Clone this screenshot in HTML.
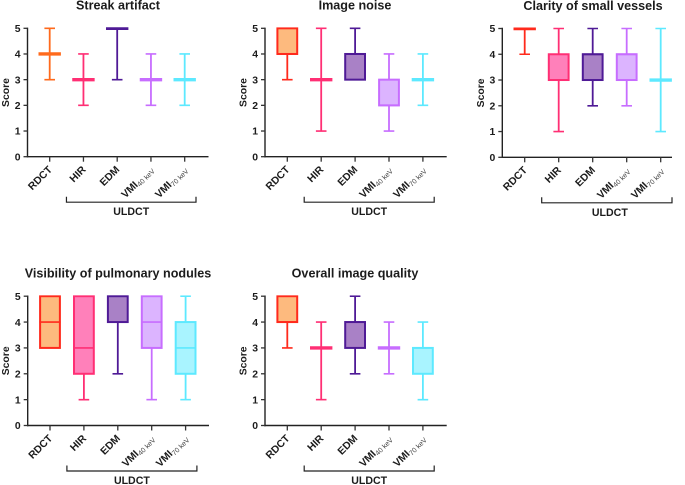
<!DOCTYPE html>
<html lang="en">
<head>
<meta charset="utf-8">
<title>ULDCT score box plots</title>
<style>
html,body{margin:0;padding:0;background:#fff;width:685px;height:485px;overflow:hidden}
svg{display:block;font-family:"Liberation Sans",Arial,sans-serif}
text{fill:#1c1c1c}
</style>
</head>
<body>
<svg id="chart" width="685" height="485" viewBox="0 0 685 485" xmlns="http://www.w3.org/2000/svg"></svg>
<script>
// Data: each row is [min, q1, median, q3, max] for RDCT, HIR, EDM, VMI40, VMI70
const categories = ['RDCT', 'HIR', 'EDM', 'VMI40', 'VMI70'];
const yTicks = [0, 1, 2, 3, 4, 5];
const panelTitles = ['Streak artifact', 'Image noise', 'Clarity of small vessels', 'Visibility of pulmonary nodules', 'Overall image quality'];
const streakArtifact = [[3,4,4,4,5],[2,3,3,3,4],[3,5,5,5,5],[2,3,3,3,4],[2,3,3,3,4]];
const imageNoise = [[3,4,4,5,5],[1,3,3,3,5],[3,3,4,4,5],[1,2,2,3,4],[2,3,3,3,4]];
const clarityOfVessels = [[4,5,5,5,5],[1,3,3,4,5],[2,3,4,4,5],[2,3,4,4,5],[1,3,3,3,5]];
const pulmonaryNodules = [[3,3,4,5,5],[1,2,3,5,5],[2,4,5,5,5],[1,3,4,5,5],[1,2,3,4,5]];
const overallQuality = [[3,4,4,5,5],[1,3,3,3,4],[2,3,4,4,5],[2,3,3,3,4],[1,2,3,3,4]];
const panelData = [streakArtifact, imageNoise, clarityOfVessels, pulmonaryNodules, overallQuality];

// Layout and style (not data)
const layouts = [
  {left: 27.5, bottom: 156.7, top: 28.3, first: 49.7, step: 33.75, right: 208.5, centre: 118, ulShift: 0},
  {left: 265, bottom: 156.7, top: 28.3, first: 287.3, step: 33.9, right: 446.7, centre: 355, ulShift: 0},
  {left: 502.3, bottom: 157.3, top: 28.5, first: 524.7, step: 34, right: 672, centre: 593, ulShift: 3},
  {left: 27.7, bottom: 425.5, top: 296.2, first: 50, step: 33.9, right: 209, centre: 118, ulShift: 0},
  {left: 265, bottom: 425.5, top: 296.2, first: 287.3, step: 33.9, right: 446.7, centre: 355, ulShift: 0}
];
const strokes = ['#ff2a1c', '#ff2f74', '#4f1a96', '#c76dff', '#5de9ff'];
const fills = ['#fdba7e', '#ff80ba', '#a981c6', '#dcb4ff', '#a9f4ff'];
const firstPanelFirstStroke = '#ff6a1c';
const NS = 'http://www.w3.org/2000/svg';
const svg = document.getElementById('chart');

function make(tag, attrs, parent) {
  const el = document.createElementNS(NS, tag);
  for (const k in attrs) el.setAttribute(k, attrs[k]);
  parent.appendChild(el);
  return el;
}

panelData.forEach(function (rows, p) {
  const L = layouts[p];
  const yScale = function (v) { return L.bottom - (L.bottom - L.top) * v / 5; };
  const xScale = function (i) { return L.first + L.step * i; };
  const slug = panelTitles[p].toLowerCase().replace(/ /g, '-');

  const g = make('g', {}, svg);
  
  

  const clipId = 'clip' + p;
  const defs = make('defs', {}, g);
  const clip = make('clipPath', {id: clipId}, defs);
  make('rect', {x: L.left, y: L.top - 1, width: L.right - L.left, height: L.bottom - L.top + 1}, clip);

  // title
  const title = make('text', {x: L.centre, y: L.top - 18.6, 'text-anchor': 'middle', 'font-size': 12.6, 'font-weight': 700}, g);
  title.textContent = panelTitles[p];
  
  

  // y axis title
  const ty = (L.top + L.bottom) / 2;
  const tx = L.left - 18.5;
  const yTitle = make('text', {x: tx, y: ty, transform: 'rotate(-90 ' + tx + ' ' + ty + ')', 'text-anchor': 'middle', 'font-size': 10.4, 'font-weight': 700}, g);
  yTitle.textContent = 'Score';
  
  

  // axes
  const yAxis = make('line', {x1: L.left, x2: L.left, y1: L.top - 0.7, y2: L.bottom + 0.7, stroke: '#222', 'stroke-width': 1.4}, g);
  
  
  const xAxis = make('line', {x1: L.left - 0.7, x2: L.right, y1: L.bottom, y2: L.bottom, stroke: '#222', 'stroke-width': 1.4}, g);
  
  

  yTicks.forEach(function (v) {
    const y = yScale(v);
    const tick = make('line', {x1: L.left - 4, x2: L.left, y1: y, y2: y, stroke: '#333', 'stroke-width': 1.3}, g);
    
    
    const lab = make('text', {x: L.left - 7, y: y + 3.7, 'text-anchor': 'end', 'font-size': 10.4, 'font-weight': 700}, g);
    lab.textContent = v;
    
    
  });

  // boxes
  rows.forEach(function (row, i) {
    const min = row[0], q1 = row[1], med = row[2], q3 = row[3], max = row[4];
    const x = xScale(i);
    const col = (p === 0 && i === 0) ? firstPanelFirstStroke : strokes[i];
    const halfBox = 10.6, halfCap = 5.3, sw = 1.8;

    const box = make('g', {'clip-path': 'url(#' + clipId + ')'}, g);
    
    

    if (max > q3) {
      make('line', {x1: x, x2: x, y1: yScale(max), y2: yScale(q3), stroke: col, 'stroke-width': sw}, box);
      make('line', {x1: x - halfCap, x2: x + halfCap, y1: yScale(max), y2: yScale(max), stroke: col, 'stroke-width': 1.6}, box);
    }
    if (min < q1) {
      make('line', {x1: x, x2: x, y1: yScale(q1), y2: yScale(min), stroke: col, 'stroke-width': sw}, box);
      make('line', {x1: x - halfCap, x2: x + halfCap, y1: yScale(min), y2: yScale(min), stroke: col, 'stroke-width': 1.6}, box);
    }
    if (q3 > q1) {
      make('rect', {x: x - halfBox + 0.7, y: yScale(q3), width: 2 * halfBox - 1.4, height: yScale(q1) - yScale(q3), fill: fills[i], stroke: col, 'stroke-width': 2}, box);
      make('line', {x1: x - halfBox, x2: x + halfBox, y1: yScale(med), y2: yScale(med), stroke: col, 'stroke-width': 1.7}, box);
    } else {
      make('line', {x1: x - 11.2, x2: x + 11.2, y1: yScale(med), y2: yScale(med), stroke: col, 'stroke-width': 3.4}, box);
    }

    // x tick
    const xt = make('line', {x1: x, x2: x, y1: L.bottom, y2: L.bottom + 5, stroke: '#333', 'stroke-width': 1.3}, g);
    
    

    // x label
    const ax = x + 3, ay = L.bottom + 13.5;
    const label = make('text', {x: ax, y: ay, transform: 'rotate(-45 ' + ax + ' ' + ay + ')', 'text-anchor': 'end', 'font-size': 10.4, 'font-weight': 700}, g);
    
    
    const m = categories[i].match(/^VMI(\d+)$/);
    if (m) {
      const a = make('tspan', {}, label);
      a.textContent = 'VMI';
      const b = make('tspan', {dy: 2, 'font-size': 7, 'font-weight': 400, fill: '#444'}, label);
      b.textContent = m[1] + ' keV';
    } else {
      label.textContent = categories[i];
    }
  });

  // ULDCT bracket
  const bx1 = xScale(1) - 17, bx2 = xScale(4) + 11.3;
  const by = L.bottom + 45.5;
  const bracket = make('path', {d: 'M' + bx1 + ' ' + (by - 5.5) + 'V' + by + 'H' + bx2 + 'V' + (by - 5.5), fill: 'none', stroke: '#222', 'stroke-width': 1.2}, g);
  
  
  const ul = make('text', {x: (bx1 + bx2) / 2 + L.ulShift, y: by + 13, 'text-anchor': 'middle', 'font-size': 10.6, 'font-weight': 700}, g);
  ul.textContent = 'ULDCT';
  
  
});
</script>
</body>
</html>
